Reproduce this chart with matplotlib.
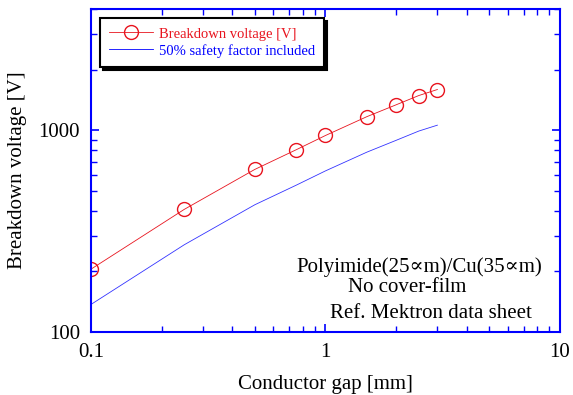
import matplotlib
matplotlib.use("Agg")
import matplotlib.pyplot as plt
from matplotlib.ticker import LogLocator, NullFormatter, FixedLocator, FixedFormatter

plt.rcParams['font.family'] = ['Liberation Serif', 'DejaVu Serif']

gap_mm = [0.1, 0.25, 0.5, 0.75, 1.0, 1.5, 2.0, 2.5, 3.0]
breakdown_v = [205, 406, 641, 802, 944, 1170, 1340, 1490, 1596]
safety_v = [137, 271, 428, 535, 630, 780, 893, 993, 1062]

x_ticks = [0.1, 1, 10]
x_tick_labels = ["0.1", "1", "10"]
y_ticks = [100, 1000]
y_tick_labels = ["100", "1000"]

BLUE = '#0000ff'
RED = '#e8141e'

fig = plt.figure(figsize=(5.73, 3.95), dpi=100)
ax = fig.add_axes([0.1588, 0.1595, 0.9773 - 0.1588, 0.977 - 0.1595])

ax.plot(gap_mm, breakdown_v, color=RED, lw=0.6, marker='o', ms=10,
        mfc='none', mec=RED, mew=1.0, label='Breakdown voltage [V]')
ax.plot(gap_mm, safety_v, color=BLUE, lw=0.6, alpha=0.8,
        label='50% safety factor included')

ax.set_xscale('log')
ax.set_yscale('log')
ax.set_xlim(0.1, 10)
ax.set_ylim(100, 4000)

ax.xaxis.set_major_locator(FixedLocator(x_ticks))
ax.xaxis.set_major_formatter(FixedFormatter(x_tick_labels))
ax.yaxis.set_major_locator(FixedLocator(y_ticks))
ax.yaxis.set_major_formatter(FixedFormatter(y_tick_labels))
ax.xaxis.set_minor_locator(LogLocator(base=10, subs=range(2, 10)))
ax.yaxis.set_minor_locator(LogLocator(base=10, subs=range(2, 10)))
ax.xaxis.set_minor_formatter(NullFormatter())
ax.yaxis.set_minor_formatter(NullFormatter())

for s in ax.spines.values():
    s.set_color(BLUE)
    s.set_linewidth(1.5)
ax.tick_params(which='both', direction='in', top=True, right=True,
               color=BLUE, labelsize=15, labelcolor='black')
ax.tick_params(which='major', length=6, width=1.2)
ax.tick_params(which='minor', length=4, width=1.0)
ax.tick_params(axis='y', which='major', pad=8)
ax.tick_params(axis='x', which='major', pad=8)

ax.set_xlabel('Conductor gap [mm]', fontsize=15, labelpad=9)
ax.set_ylabel('Breakdown voltage [V]', fontsize=15, labelpad=8)

leg = ax.legend(loc='upper left', bbox_to_anchor=(0.0, 1.0),
                bbox_transform=ax.transAxes, fontsize=10.5,
                labelcolor='linecolor', fancybox=False,
                shadow={'color': 'black', 'alpha': 1.0},
                handlelength=3.0, handletextpad=0.4, borderpad=0.65,
                labelspacing=0.22, borderaxespad=0.6, framealpha=1)
leg.get_frame().set_edgecolor('black')
leg.get_frame().set_linewidth(1.5)
for h in leg.legend_handles:
    h.set_alpha(1.0)

ax.text(419, 267, 'Polyimide(25\u221dm)/Cu(35\u221dm)', transform=None,
        fontsize=15, ha='center', va='center')
ax.text(407, 287, 'No cover-film', fontsize=15, ha='center', va='center',
        transform=None)
ax.text(431, 313, 'Ref. Mektron data sheet', fontsize=15, ha='center',
        va='center', transform=None)

# convert pixel coords (from top) to display coords
for t in ax.texts:
    x, y = t.get_position()
    t.set_position((x, 395 - y))

fig.savefig('out.png', dpi=100)
